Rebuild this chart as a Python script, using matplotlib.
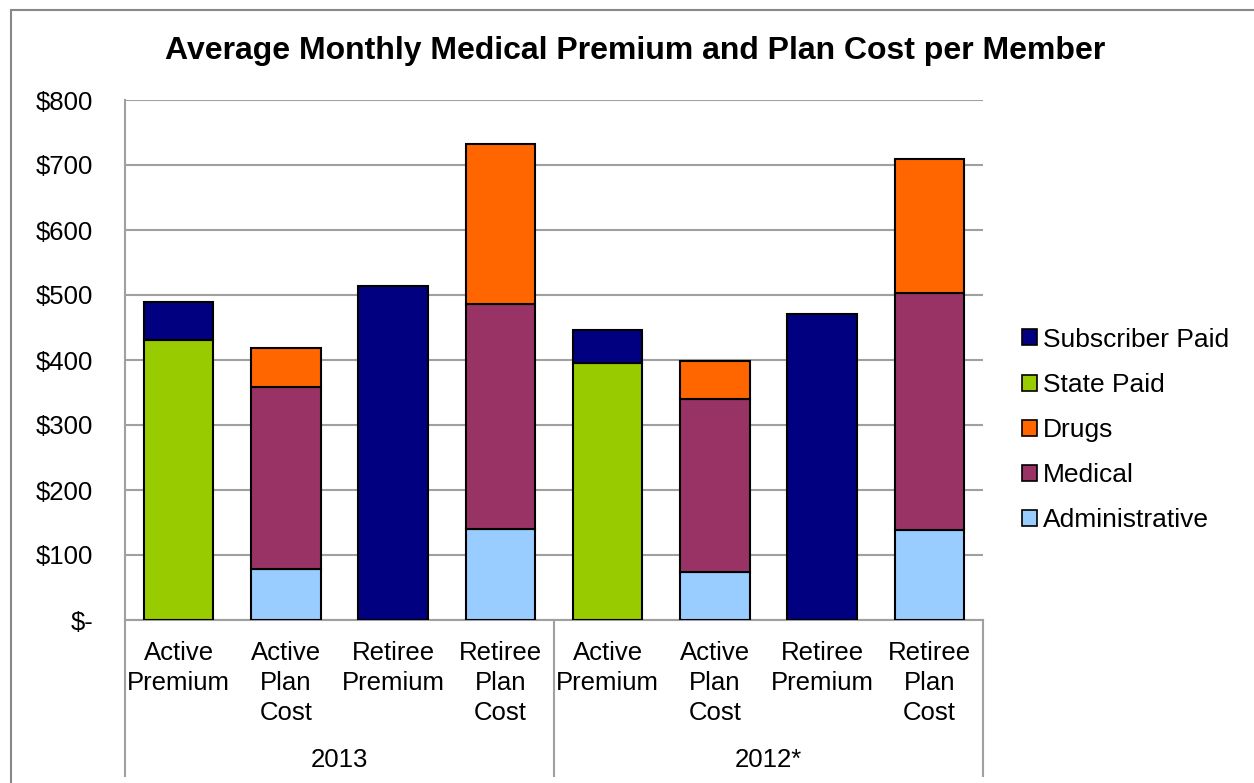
import numpy as np
import matplotlib
matplotlib.use('Agg')
import matplotlib.pyplot as plt
from matplotlib.patches import Patch, Rectangle
from matplotlib.lines import Line2D

plt.rcParams['font.family'] = ['Liberation Sans', 'DejaVu Sans']

categories = ["Active\nPremium", "Active\nPlan\nCost", "Retiree\nPremium", "Retiree\nPlan\nCost",
              "Active\nPremium", "Active\nPlan\nCost", "Retiree\nPremium", "Retiree\nPlan\nCost"]
years = ["2013", "2012*"]

administrative = [0, 78, 0, 140, 0, 74, 0, 138]
medical = [0, 281, 0, 346, 0, 266, 0, 365]
drugs = [0, 60, 0, 246, 0, 59, 0, 206]
state_paid = [431, 0, 0, 0, 395, 0, 0, 0]
subscriber_paid = [58, 0, 514, 0, 51, 0, 471, 0]

series = [
    ("Administrative", administrative, "#99CCFF"),
    ("Medical", medical, "#993366"),
    ("Drugs", drugs, "#FF6600"),
    ("State Paid", state_paid, "#99CC00"),
    ("Subscriber Paid", subscriber_paid, "#000080"),
]

fs = 18.5
fig = plt.figure(figsize=(12.54, 7.83), dpi=100)
ax = fig.add_axes([125 / 1254, 1 - 620 / 783, (983 - 125) / 1254, 520 / 783])

x = np.arange(len(categories))
bottom = np.zeros(len(categories))
for name, vals, col in series:
    vals = np.array(vals, dtype=float)
    keep = vals > 0
    ax.bar(x[keep], vals[keep], width=0.65, bottom=bottom[keep], color=col,
           edgecolor='black', linewidth=1.5, zorder=3)
    bottom += vals

ax.set_xlim(-0.5, len(categories) - 0.5)
ax.set_ylim(0, 800)
ax.set_yticks(np.arange(0, 801, 100))
ax.set_yticklabels(['$-'] + ['$%d' % v for v in range(100, 801, 100)], fontsize=fs)
ax.yaxis.grid(True, color='#a0a0a0', linewidth=1.5, zorder=0)
ax.tick_params(axis='y', length=0, pad=23)

ax.set_xticks(x)
ax.set_xticklabels(categories, fontsize=fs, linespacing=1.33)
ax.tick_params(axis='x', length=0, pad=15)

for s in ['top', 'right']:
    ax.spines[s].set_visible(False)
for s in ['left', 'bottom']:
    ax.spines[s].set_color('#a0a0a0')
    ax.spines[s].set_linewidth(1.5)

# group separators under the axis
trans = ax.get_xaxis_transform()
for xv in [-0.5, 3.5, 7.5]:
    ax.add_line(Line2D([xv, xv], [0, -0.3], transform=trans, color='#a0a0a0',
                       linewidth=1.5, clip_on=False))
for i, yr in enumerate(years):
    ax.text(1.5 + 4 * i, -0.27, yr, transform=trans, ha='center', va='center', fontsize=fs)

fig.suptitle("Average Monthly Medical Premium and Plan Cost per Member",
             fontsize=23, fontweight='bold', x=635 / 1254, y=1 - 51 / 783, va='center')

handles = [Patch(facecolor=col, edgecolor='black', linewidth=1.2, label=name)
           for name, vals, col in series[::-1]]
fig.legend(handles=handles, loc='center left', bbox_to_anchor=(1022 / 1254, 1 - 430 / 783),
           frameon=False, fontsize=19, handlelength=0.55, handleheight=0.55,
           handletextpad=0.25, labelspacing=0.8, borderpad=0, borderaxespad=0)

# outer chart border
fig.patches.append(Rectangle((11 / 1254, -0.1), 1.2, 1.1 - 10 / 783, transform=fig.transFigure,
                             fill=False, edgecolor='#888888', linewidth=1.5))

fig.savefig('out.png', dpi=100)
